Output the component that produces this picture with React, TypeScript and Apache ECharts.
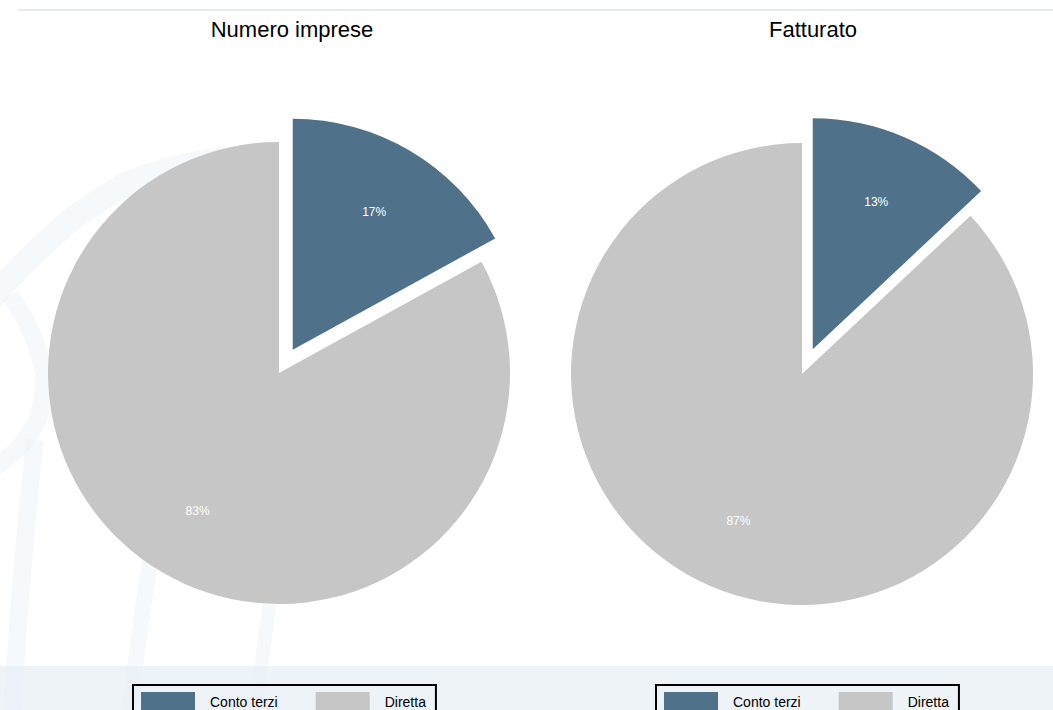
import React, { useEffect, useRef } from "react";
import * as echarts from "echarts";

const categories = ["Conto terzi", "Diretta"];
const numeroImprese = [17, 83];
const fatturato = [13, 87];
const titles = ["Numero imprese", "Fatturato"];
const colors = ["#4f7189", "#c6c6c6"];

const FONT = "'Liberation Sans', Arial, sans-serif";

function buildData(values: number[]) {
  return categories.map((name, i) => ({
    name,
    value: values[i],
    selected: i === 0,
    itemStyle: { color: colors[i] },
  }));
}

function pieSeries(values: number[], center: [number, number]) {
  return [
    {
      type: "pie",
      center,
      radius: [0, 231],
      startAngle: 90,
      clockwise: true,
      selectedMode: "single",
      selectedOffset: 27,
      silent: true,
      emphasis: { disabled: true },
      label: { show: false },
      labelLine: { show: false },
      data: buildData(values),
      z: 2,
    },
    {
      type: "pie",
      center,
      radius: [83, 231],
      startAngle: 90,
      clockwise: true,
      selectedMode: "single",
      selectedOffset: 27,
      silent: true,
      emphasis: { disabled: true },
      itemStyle: { color: "rgba(0,0,0,0)" },
      label: {
        show: true,
        position: "inside",
        formatter: "{d}%",
        color: "#ffffff",
        fontSize: 12,
        fontFamily: FONT,
      },
      labelLine: { show: false },
      data: categories.map((name, i) => ({
        name,
        value: values[i],
        selected: i === 0,
        itemStyle: { color: "rgba(0,0,0,0)" },
      })),
      z: 3,
    },
  ];
}

function legendAt(left: number) {
  return {
    left,
    top: 685,
    orient: "horizontal",
    data: categories,
    itemWidth: 54,
    itemHeight: 20,
    itemGap: 38,
    padding: [7, 10, 7, 8],
    borderColor: "#000000",
    borderWidth: 2,
    borderRadius: 0,
    selectedMode: false,
    icon: "rect",
    textStyle: {
      color: "#000000",
      fontSize: 14,
      fontFamily: FONT,
      padding: [0, 0, 0, 10],
    },
  };
}

const wm = "rgba(228,237,243,0.35)";

export default function App() {
  const ref = useRef<HTMLDivElement>(null);
  useEffect(() => {
    if (!ref.current) return;
    const chart = echarts.init(ref.current, undefined, { renderer: "svg" });
    chart.setOption({
      animation: false,
      backgroundColor: "#ffffff",
      color: colors,
      title: [
        {
          text: titles[0],
          left: 287,
          top: 13,
          textAlign: "center",
          textStyle: { color: "#000", fontSize: 22, fontWeight: "normal", fontFamily: FONT },
        },
        {
          text: titles[1],
          left: 808,
          top: 13,
          textAlign: "center",
          textStyle: { color: "#000", fontSize: 22, fontWeight: "normal", fontFamily: FONT },
        },
      ],
      legend: [legendAt(133), legendAt(656)],
      graphic: [
        {
          type: "rect",
          shape: { x: 0, y: 666, width: 1053, height: 44 },
          style: { fill: "#eef3f7" },
          z: -10,
          silent: true,
        },
        {
          type: "line",
          shape: { x1: 18, y1: 10, x2: 1053, y2: 10 },
          style: { stroke: "#e6ecef", lineWidth: 2 },
          z: -10,
          silent: true,
        },
        {
          type: "polyline",
          shape: {
            points: [[-10, 300], [40, 248], [100, 200], [160, 172], [240, 158]],
            smooth: 0.5,
          },
          style: { stroke: wm, lineWidth: 24, fill: null },
          z: -9,
          silent: true,
        },
        {
          type: "polyline",
          shape: {
            points: [[10, 295], [38, 350], [42, 400], [25, 440], [-10, 470]],
            smooth: 0.5,
          },
          style: { stroke: wm, lineWidth: 18, fill: null },
          z: -9,
          silent: true,
        },
        {
          type: "polyline",
          shape: {
            points: [[35, 440], [25, 540], [12, 710]],
            smooth: 0.4,
          },
          style: { stroke: wm, lineWidth: 18, fill: null },
          z: -9,
          silent: true,
        },
        {
          type: "polyline",
          shape: {
            points: [[150, 560], [140, 630], [130, 710]],
            smooth: 0.4,
          },
          style: { stroke: wm, lineWidth: 16, fill: null },
          z: -9,
          silent: true,
        },
        {
          type: "polyline",
          shape: {
            points: [[270, 600], [262, 660], [255, 710]],
            smooth: 0.4,
          },
          style: { stroke: wm, lineWidth: 14, fill: null },
          z: -9,
          silent: true,
        },
      ],
      series: [
        ...pieSeries(numeroImprese, [279, 373]),
        ...pieSeries(fatturato, [802, 374]),
      ],
    });
    return () => chart.dispose();
  }, []);
  return (
    <div
      ref={ref}
      style={{ position: "fixed", left: 0, top: 0, width: 1053, height: 710 }}
    />
  );
}
